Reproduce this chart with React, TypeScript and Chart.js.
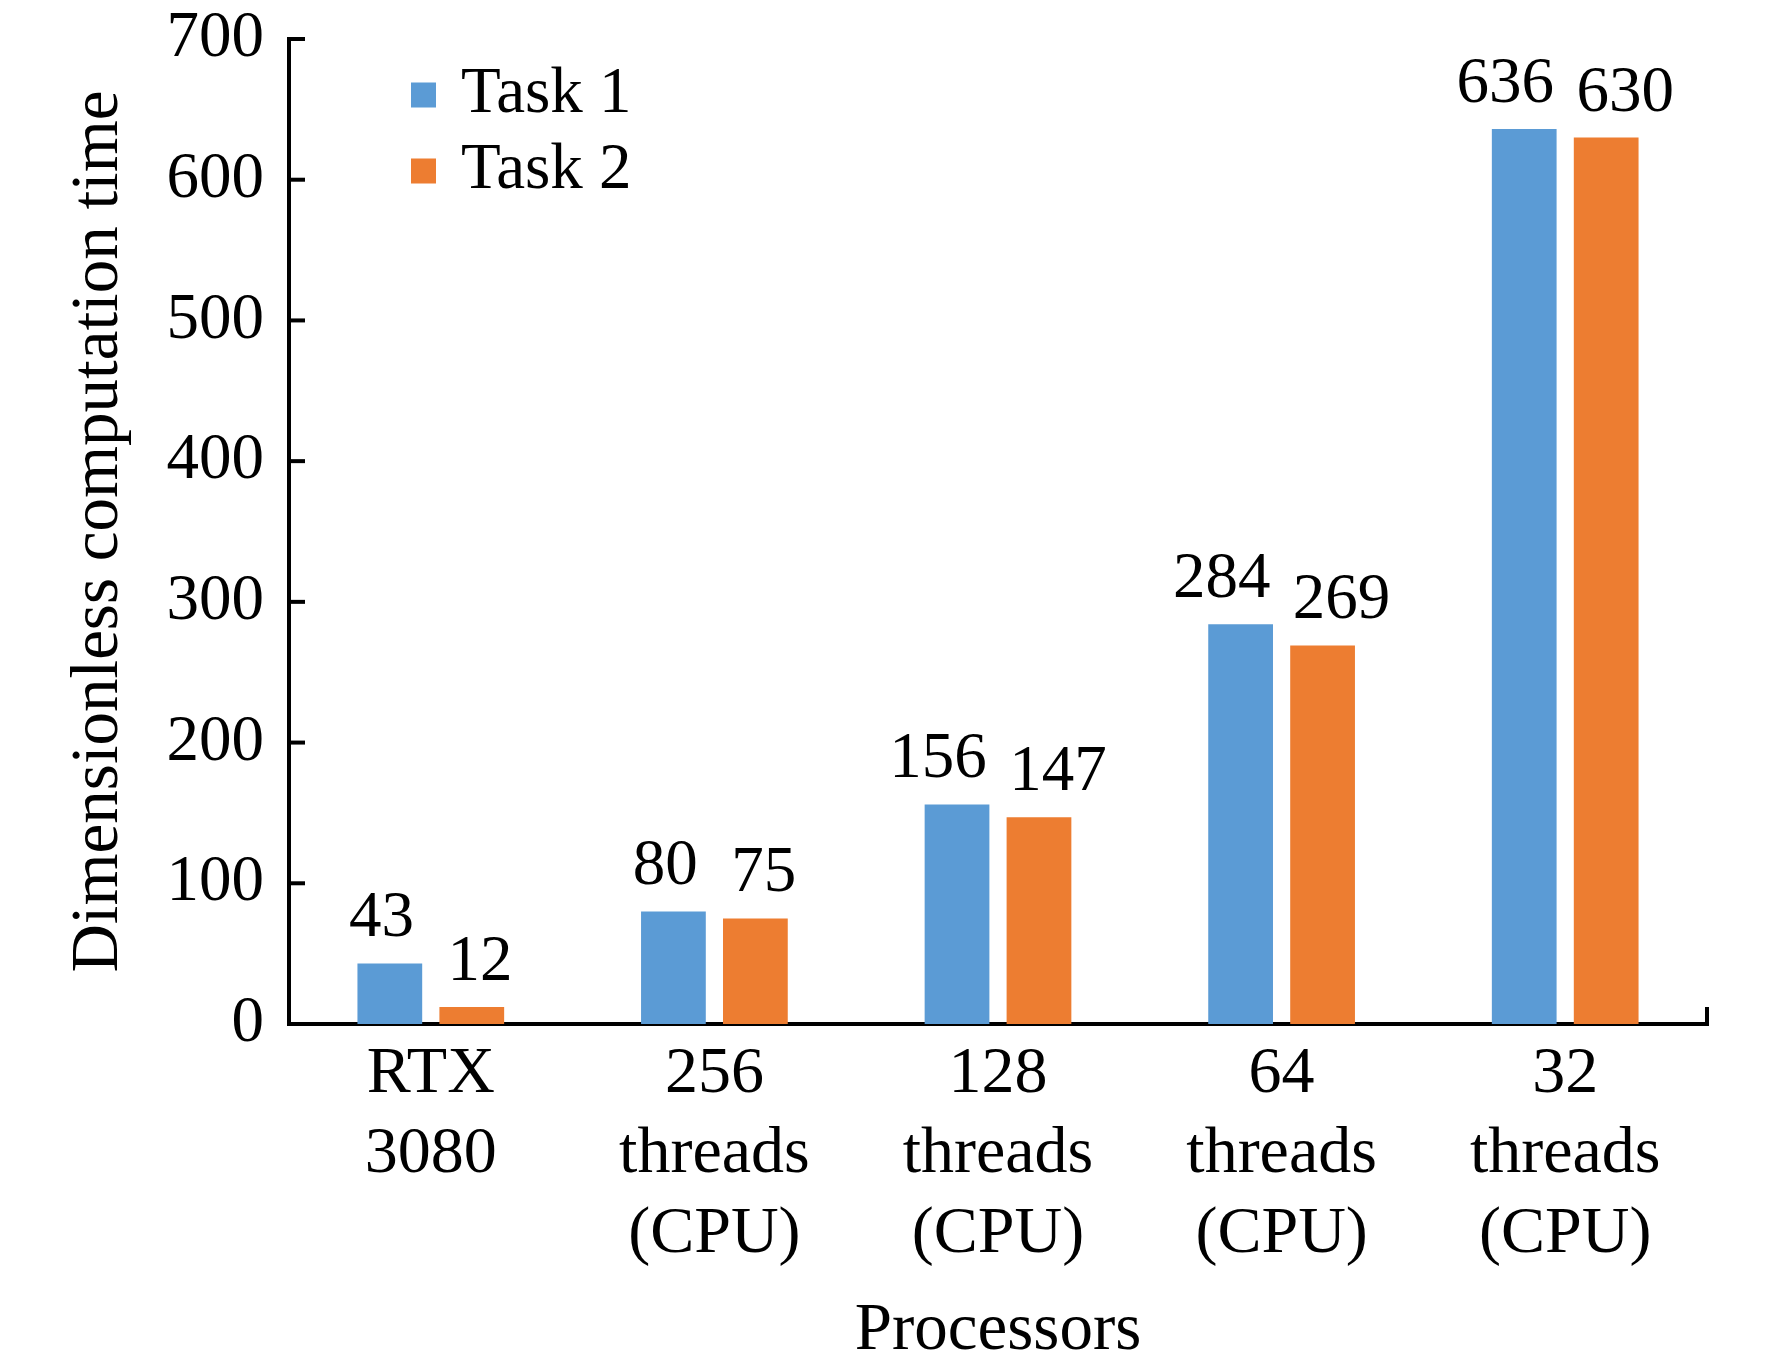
import React, { useEffect, useRef } from 'react'
import { Chart, registerables } from 'chart.js'

Chart.register(...registerables)

const processors = [
  ['RTX', '3080'],
  ['256', 'threads', '(CPU)'],
  ['128', 'threads', '(CPU)'],
  ['64', 'threads', '(CPU)'],
  ['32', 'threads', '(CPU)'],
]
const task1 = [43, 80, 156, 284, 636]
const task2 = [12, 75, 147, 269, 630]
const seriesNames = ['Task 1', 'Task 2']
const seriesColors = ['#5B9BD5', '#ED7D31']

const serif = "'Liberation Serif', 'Times New Roman', serif"

// value labels above each bar, pushed apart a bit like Excel does
const valueLabels = {
  id: 'valueLabels',
  afterDatasetsDraw(chart: any) {
    const ctx = chart.ctx
    ctx.save()
    ctx.font = `65px ${serif}`
    ctx.fillStyle = '#000'
    ctx.textAlign = 'center'
    ctx.textBaseline = 'alphabetic'
    chart.data.datasets.forEach((ds: any, i: number) => {
      const meta = chart.getDatasetMeta(i)
      meta.data.forEach((bar: any, j: number) => {
        const txt = String(ds.data[j])
        const w = ctx.measureText(txt).width
        const shift = Math.max(0, (w - 40) * 0.33) * (i === 0 ? -1 : 1)
        ctx.fillText(txt, bar.x + shift, bar.y - 27)
      })
    })
    ctx.restore()
  },
}

// inward tick marks on y axis, end tick on x axis
const axisTicks = {
  id: 'axisTicks',
  afterDraw(chart: any) {
    const { ctx, chartArea, scales } = chart
    ctx.save()
    ctx.strokeStyle = '#000'
    ctx.lineWidth = 4
    scales.y.ticks.forEach((t: any) => {
      const y = scales.y.getPixelForValue(t.value)
      ctx.beginPath()
      ctx.moveTo(chartArea.left, y)
      ctx.lineTo(chartArea.left + 16, y)
      ctx.stroke()
    })
    ctx.beginPath()
    ctx.moveTo(chartArea.right, chartArea.bottom + 2)
    ctx.lineTo(chartArea.right, chartArea.bottom - 17)
    ctx.stroke()
    ctx.restore()
  },
}

// legend inside the plot, top left
const boxLegend = {
  id: 'boxLegend',
  afterDraw(chart: any) {
    const { ctx, chartArea } = chart
    ctx.save()
    ctx.font = `65px ${serif}`
    ctx.textBaseline = 'middle'
    ctx.textAlign = 'left'
    chart.data.datasets.forEach((ds: any, i: number) => {
      const cy = chartArea.top + 56 + i * 76
      const bx = chartArea.left + 122
      ctx.fillStyle = ds.backgroundColor
      ctx.fillRect(bx, cy - 12.5, 25, 25)
      ctx.fillStyle = '#000'
      ctx.fillText(ds.label, bx + 50, cy)
    })
    ctx.restore()
  },
}

const App = () => {
  const canvasRef = useRef<HTMLCanvasElement | null>(null)

  useEffect(() => {
    let chart: Chart | undefined
    if (canvasRef.current !== null) {
      chart = new Chart(canvasRef.current, {
        type: 'bar',
        data: {
          labels: processors,
          datasets: [
            {
              label: seriesNames[0],
              data: task1,
              backgroundColor: seriesColors[0],
              borderWidth: 0,
              categoryPercentage: 0.578,
              barPercentage: 0.79,
            },
            {
              label: seriesNames[1],
              data: task2,
              backgroundColor: seriesColors[1],
              borderWidth: 0,
              categoryPercentage: 0.578,
              barPercentage: 0.79,
            },
          ],
        },
        options: {
          responsive: false,
          animation: false,
          layout: { padding: { top: 39, right: 65, bottom: 0, left: 66 } },
          plugins: {
            legend: { display: false },
            tooltip: { enabled: false },
          },
          scales: {
            x: {
              grid: { display: false, drawTicks: false },
              border: { display: true, color: '#000', width: 4 },
              ticks: {
                color: '#000',
                padding: 11,
                maxRotation: 0,
                autoSkip: false,
                font: { family: serif, size: 66, lineHeight: 1.21 },
              },
              title: {
                display: true,
                text: 'Processors',
                color: '#000',
                padding: { top: 0, bottom: 5 },
                font: { family: serif, size: 67, lineHeight: 1 },
              },
              afterFit: (scale: any) => {
                scale.height = 346
              },
            },
            y: {
              min: 0,
              max: 700,
              grid: { display: false, drawTicks: false },
              border: { display: true, color: '#000', width: 4 },
              ticks: {
                stepSize: 100,
                color: '#000',
                padding: 25,
                font: { family: serif, size: 65, lineHeight: 1.1 },
              },
              title: {
                display: true,
                text: 'Dimensionless computation time',
                color: '#000',
                padding: { top: 0, bottom: 0 },
                font: { family: serif, size: 67, lineHeight: 1 },
              },
              afterFit: (scale: any) => {
                scale.width = 223
                scale.paddingTop = 0
                scale.paddingBottom = 0
              },
            },
          },
        },
        plugins: [valueLabels, axisTicks, boxLegend],
      })
    }
    return () => {
      if (chart) {
        chart.destroy()
      }
    }
  }, [])

  return (
    <div style={{ position: 'absolute', left: 0, top: 0, width: 1772, height: 1370, background: '#fff' }}>
      <canvas ref={canvasRef} width={1772} height={1370} style={{ width: 1772, height: 1370 }}></canvas>
    </div>
  )
}

export default App
